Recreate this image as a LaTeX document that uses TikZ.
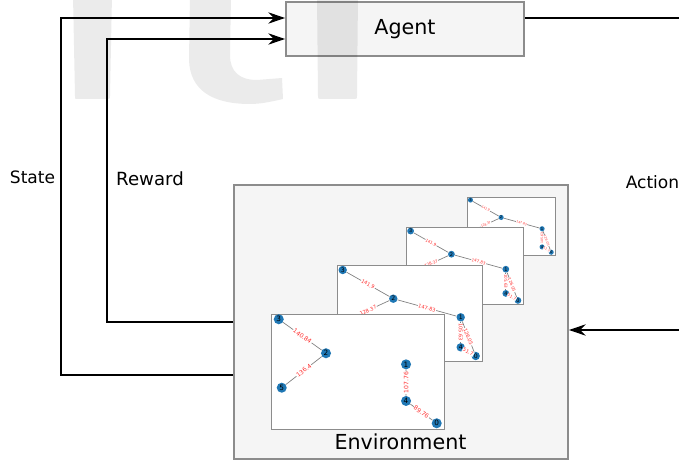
\documentclass[tikz,border=0pt]{standalone}
\usepackage{fontspec}
\setmainfont{DejaVu Sans}
\usetikzlibrary{arrows.meta}
\definecolor{boxfill}{HTML}{F5F5F5}
\definecolor{boxline}{HTML}{8C8C8C}
\definecolor{nodeblue}{HTML}{1F77B4}
\definecolor{edgegray}{HTML}{7F7F7F}
\definecolor{elabred}{HTML}{FF3030}
\tikzset{
  bigbox/.style={draw=boxline, fill=boxfill, line width=1.5pt, inner sep=0pt},
  flow/.style={line width=0.9pt, -{Stealth[length=12.5pt,width=8.5pt]}},
  lbl/.style={inner sep=0pt, anchor=base},
  panelbox/.style={draw=boxline, fill=white, line width=0.75pt, minimum width=108.75pt, minimum height=72pt, anchor=north west, inner sep=0pt},
  gnode/.style={circle, fill=nodeblue, inner sep=0pt, minimum size=6.3pt, font=\fontsize{4.6}{5}\selectfont},
  gedge/.style={draw=edgegray, line width=0.5pt},
  elab/.style={sloped, fill=white, text=elabred, inner sep=0.4pt, font=\fontsize{3.8}{4}\selectfont},
  wm/.style={fill=black, opacity=0.08},
}
% panels 2-4: same graph
\newcommand{\graphA}[4]{%
  \begin{scope}[shift={(#1,#2)}, scale=#3, transform shape]
    \node[panelbox] (#4f) at (0,0) {};
    \node[gnode] (#4n3) at (5.7,5) {3};
    \node[gnode] (#4n2) at (56.3,33.7) {2};
    \node[gnode] (#4n5) at (6,57) {5};
    \node[gnode] (#4n1) at (123.7,52.3) {1};
    \node[gnode] (#4n4) at (123.7,82.3) {4};
    \node[gnode] (#4n0) at (138.7,91) {0};
    \draw[gedge] (#4n3) -- node[elab]{141.9} (#4n2);
    \draw[gedge] (#4n2) -- node[elab]{128.37} (#4n5);
    \draw[gedge] (#4n2) -- node[elab]{147.83} (#4n1);
    \draw[gedge] (#4n1) -- node[elab]{105.63} (#4n4);
    \draw[gedge] (#4n1) -- node[elab]{126.05} (#4n0);
    \draw[gedge] (#4n4) -- node[elab]{51.7} (#4n0);
  \end{scope}}
% front panel
\newcommand{\graphB}[4]{%
  \begin{scope}[shift={(#1,#2)}, scale=#3, transform shape]
    \node[panelbox] (#4f) at (0,0) {};
    \node[gnode] (#4n3) at (6.5,4.4) {3};
    \node[gnode] (#4n2) at (46.1,32.9) {2};
    \node[gnode] (#4n5) at (9.0,61.8) {5};
    \node[gnode] (#4n1) at (113.2,42.2) {1};
    \node[gnode] (#4n4) at (113.2,72.9) {4};
    \node[gnode] (#4n0) at (138.9,91.6) {0};
    \draw[gedge] (#4n3) -- node[elab]{140.84} (#4n2);
    \draw[gedge] (#4n2) -- node[elab]{136.4} (#4n5);
    \draw[gedge] (#4n1) -- node[elab]{107.76} (#4n4);
    \draw[gedge] (#4n4) -- node[elab]{89.76} (#4n0);
  \end{scope}}
\begin{document}
\begin{tikzpicture}[x=0.75pt, y=-0.75pt]
  \useasboundingbox (0,0) rectangle (679,463);
  \clip (0,0) rectangle (679,463);
  % main boxes
  \node[bigbox, minimum width=178.5pt, minimum height=40.5pt,
        font=\fontsize{15.5}{18}\selectfont] (agent) at (405,29) {Agent};
  \node[bigbox, minimum width=250.5pt, minimum height=205.5pt] (env) at (401,322) {};
  % stacked graph snapshots
  \graphA{467}{197}{0.607}{p4}
  \graphA{406}{227}{0.807}{p3}
  \graphA{337}{265}{1}{p2}
  \graphB{271}{314}{1.193}{p1}
  \node[lbl, font=\fontsize{15.5}{18}\selectfont] (envlabel) at (400.5,450) {Environment};
  % connectors
  \draw[flow] (env.west |- 0,375) -| (61,18) -- (agent.west |- 0,18);
  \draw[flow] (env.west |- 0,322) -| (107,39) -- (agent.west |- 0,39);
  \draw[flow] (agent.east |- 0,18) -- (700,18) -- (700,330) -- (env.east |- 0,330);
  % labels
  \node[lbl, font=\fontsize{12.8}{15}\selectfont] (state) at (32.5,184) {State};
  \node[lbl, font=\fontsize{13.6}{16}\selectfont] (reward) at (150,186) {Reward};
  \node[lbl, font=\fontsize{12.8}{15}\selectfont] (action) at (652.5,189) {Action};
  % faint watermark
  \fill[wm] (73,-5) -- (112,-5) -- (110,96) .. controls (110,99) .. (107,99)
            -- (77,99) .. controls (75,99) .. (75,96) -- cycle;
  \fill[wm] (190,-5) -- (231,-5) -- (230,55) .. controls (230,72) and (240,80) .. (257,80)
            -- (282,78) -- (283,99) .. controls (270,102) and (260,104) .. (250,104)
            .. controls (212,104) and (190,90) .. (189,60) -- cycle;
  \fill[wm] (317,-5) -- (358,-5) -- (357,96) .. controls (357,99) .. (354,99)
            -- (321,99) .. controls (318,99) .. (318,96) -- cycle;
\end{tikzpicture}
\end{document}
